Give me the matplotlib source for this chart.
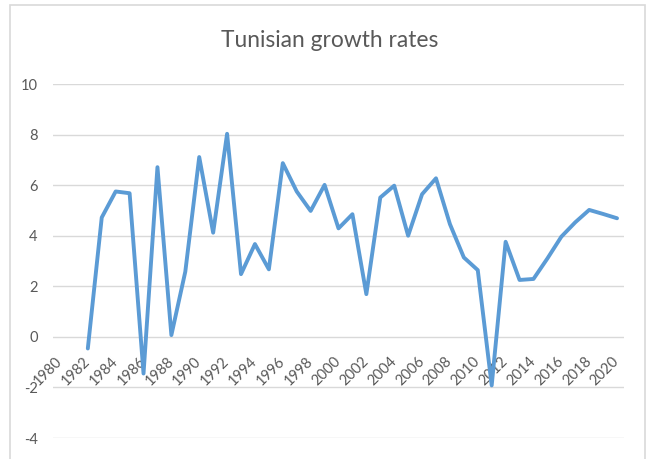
import numpy as np
import matplotlib
matplotlib.use('Agg')
import matplotlib.pyplot as plt
from matplotlib.patches import Rectangle

plt.rcParams['font.family'] = ['Lato', 'DejaVu Sans']

# data (no values for 1980, 1981)
years = list(range(1980, 2021))
growth = [np.nan, np.nan,
          -0.46, 4.72, 5.75, 5.68, -1.45, 6.71, 0.07, 2.58, 7.11,
          4.12, 8.03, 2.48, 3.67, 2.67, 6.87, 5.75, 4.98, 6.01, 4.29,
          4.85, 1.69, 5.51, 5.98, 4.00, 5.64, 6.27, 4.46, 3.14, 2.64,
          -1.92, 3.76, 2.25, 2.29, 3.10, 3.96, 4.53, 5.02, 4.86, 4.69]
yticks = [-4, -2, 0, 2, 4, 6, 8, 10]
title = 'Tunisian growth rates'

txt_col = '#595959'
grid_col = '#D9D9D9'
line_col = '#5B9BD5'

W, H = 651, 459
fig = plt.figure(figsize=(W / 100, H / 100), dpi=100)

# chart area border
fig.patches.append(Rectangle((10 / W, -0.05), 635 / W, 1.05 - 5 / H,
                             transform=fig.transFigure, fill=False,
                             edgecolor=grid_col, linewidth=1.2))

ax = fig.add_axes([53 / W, 1 - 438 / H, 571 / W, (438 - 84) / H])
for s in ax.spines.values():
    s.set_visible(False)
ax.spines['bottom'].set_position(('data', 0))

x = np.arange(len(years))
ax.plot(x, growth, color=line_col, lw=2.8, solid_joinstyle='round',
        solid_capstyle='round')

ax.set_xlim(-0.5, len(years) - 0.5)
ax.set_ylim(-4, 10)
ax.set_yticks(yticks)
ax.set_yticklabels([str(v) for v in yticks])
ax.yaxis.grid(True, color=grid_col, lw=1)
ax.set_axisbelow(True)

ax.set_xticks(x[::2])
ax.set_xticklabels([str(y) for y in years[::2]])
ax.tick_params(length=0, labelcolor=txt_col, labelsize=10.5)
ax.tick_params(axis='x', pad=16)
ax.tick_params(axis='y', pad=11)
for lab in ax.get_xticklabels():
    lab.set_rotation(45)
    lab.set_ha('right')
    lab.set_va('center')
    lab.set_rotation_mode('anchor')

fig.text(330 / W, 1 - 47 / H, title, ha='center', va='baseline',
         fontsize=16.4, color=txt_col)

fig.savefig('out.png', dpi=100)
